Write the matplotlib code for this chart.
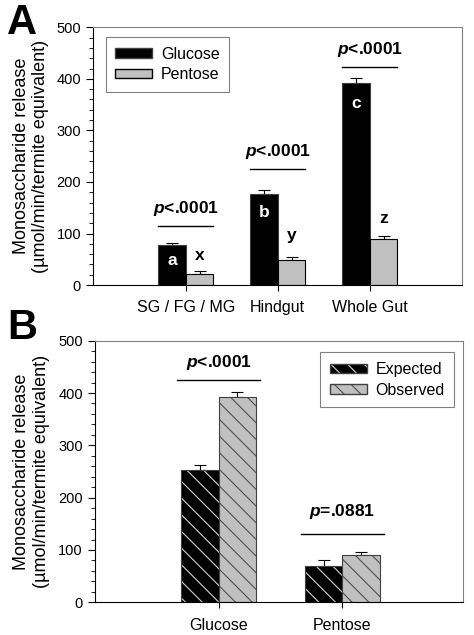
import matplotlib
matplotlib.use('Agg')
import matplotlib.pyplot as plt
import numpy as np
from matplotlib.patches import Patch
from matplotlib.ticker import MultipleLocator

plt.rcParams['font.family'] = ['Liberation Sans', 'DejaVu Sans']
plt.rcParams['mathtext.fontset'] = 'custom'
plt.rcParams['mathtext.bfit'] = 'Liberation Sans:italic:bold'
plt.rcParams['mathtext.it'] = 'Liberation Sans:italic'
plt.rcParams['mathtext.bf'] = 'Liberation Sans:bold'
plt.rcParams['hatch.linewidth'] = 0.8

# panel A data
groups_a = ['SG / FG / MG', 'Hindgut', 'Whole Gut']
glucose = [77, 176, 392]
glucose_err = [4, 9, 10]
pentose = [22, 48, 90]
pentose_err = [5, 7, 6]
letters_glc = ['a', 'b', 'c']
letters_pen = ['x', 'y', 'z']
p_a = ['p<.0001', 'p<.0001', 'p<.0001']

# panel B data
groups_b = ['Glucose', 'Pentose']
expected = [252, 70]
expected_err = [11, 10]
observed = [392, 90]
observed_err = [10, 6]
p_b = ['p<.0001', 'p=.0881']

ylab = 'Monosaccharide release\n(\u00b5mol/min/termite equivalent)'
gray = '#c0c0c0'
w = 0.3


def ptext(s):
    return r'$\mathbfit{p}$' + s[1:]


def style_axes(ax):
    ax.set_ylim(0, 500)
    ax.yaxis.set_major_locator(MultipleLocator(100))
    ax.yaxis.set_minor_locator(MultipleLocator(20))
    ax.tick_params(axis='y', which='major', direction='out', length=5, labelsize=10.5)
    ax.tick_params(axis='y', which='minor', direction='out', length=3)
    ax.tick_params(axis='x', direction='out', length=4, labelsize=11.5, pad=7)
    ax.spines['top'].set_color('#808080')
    ax.spines['right'].set_color('#808080')
    ax.set_ylabel(ylab, fontsize=13, linespacing=1.2)


leg_kw = dict(loc='upper left', fancybox=False, edgecolor='#606060', fontsize=11.5,
              handlelength=2.3, handleheight=0.55, handletextpad=0.55, labelspacing=0.35,
              borderpad=0.6, borderaxespad=0)

fig = plt.figure(figsize=(4.74, 6.35), dpi=100)

# ---- A ----
ax1 = fig.add_axes([0.196, 0.551, 0.778, 0.406])
x = np.arange(len(groups_a))
ax1.bar(x - w/2, glucose, w, color='black', edgecolor='#404040', linewidth=0.8, zorder=2)
ax1.bar(x + w/2, pentose, w, color=gray, edgecolor='black', linewidth=0.8, zorder=2)
ax1.errorbar(x - w/2, glucose, yerr=[np.zeros(3), glucose_err], fmt='none', ecolor='black',
             elinewidth=0.8, capsize=4, capthick=0.8, zorder=1)
ax1.errorbar(x + w/2, pentose, yerr=[np.zeros(3), pentose_err], fmt='none', ecolor='black',
             elinewidth=0.8, capsize=4, capthick=0.8, zorder=1)
line_a = [114, 225, 423]
for i in range(3):
    ax1.plot([x[i] - w, x[i] + w], [line_a[i], line_a[i]], color='black', lw=1)
    ax1.text(x[i], line_a[i] + 16, ptext(p_a[i]), ha='center', va='bottom',
             fontsize=12.5, fontweight='bold')
    ax1.text(x[i] - w/2, [48, 141, 352][i], letters_glc[i], color='white', ha='center',
             va='center', fontsize=12.5, fontweight='bold')
    ax1.text(x[i] + w/2, [58, 97, 130][i], letters_pen[i], color='black', ha='center',
             va='center', fontsize=12.5, fontweight='bold')
ax1.set_xlim(-1.01, 3.0)
ax1.set_xticks(x)
ax1.set_xticklabels(groups_a)
style_axes(ax1)
ax1.yaxis.set_label_coords(-0.118, 0.5)
leg = ax1.legend([Patch(facecolor='black', edgecolor='#404040'), Patch(facecolor=gray, edgecolor='black')],
                 ['Glucose', 'Pentose'], bbox_to_anchor=(0.035, 0.962), **leg_kw)
leg.get_frame().set_linewidth(0.8)
fig.text(0.015, 0.995, 'A', fontsize=30, fontweight='bold', va='top', ha='left')

# ---- B ----
ax2 = fig.add_axes([0.200, 0.0515, 0.776, 0.412])
xb = np.arange(len(groups_b))
ax2.bar(xb - w/2, expected, w, color='black', linewidth=0, zorder=2)
ax2.bar(xb - w/2, expected, w, color='none', edgecolor='#d0d0d0', hatch='\\\\', linewidth=0, zorder=2)
ax2.bar(xb - w/2, expected, w, color='none', edgecolor='#404040', linewidth=0.8, zorder=2)
ax2.bar(xb + w/2, observed, w, color=gray, linewidth=0, zorder=2)
ax2.bar(xb + w/2, observed, w, color='none', edgecolor='#505050', hatch='\\\\', linewidth=0, zorder=2)
ax2.bar(xb + w/2, observed, w, color='none', edgecolor='#404040', linewidth=0.8, zorder=2)
ax2.errorbar(xb - w/2, expected, yerr=[np.zeros(2), expected_err], fmt='none', ecolor='black',
             elinewidth=0.8, capsize=4.5, capthick=0.8, zorder=1)
ax2.errorbar(xb + w/2, observed, yerr=[np.zeros(2), observed_err], fmt='none', ecolor='black',
             elinewidth=0.8, capsize=4.5, capthick=0.8, zorder=1)
line_b = [424, 131]
text_b = [440, 155]
for i in range(2):
    ax2.plot([xb[i] - w*1.12, xb[i] + w*1.12], [line_b[i], line_b[i]], color='black', lw=1)
    ax2.text(xb[i], text_b[i], ptext(p_b[i]), ha='center', va='bottom',
             fontsize=12.5, fontweight='bold')
ax2.set_xlim(-1.0, 1.97)
ax2.set_xticks(xb)
ax2.set_xticklabels(groups_b)
style_axes(ax2)
ax2.yaxis.set_label_coords(-0.122, 0.5)
h_exp = (Patch(facecolor='black', edgecolor='none'),
         Patch(facecolor='none', edgecolor='#d0d0d0', hatch='\\\\', linewidth=0),
         Patch(facecolor='none', edgecolor='#404040'))
h_obs = (Patch(facecolor=gray, edgecolor='none'),
         Patch(facecolor='none', edgecolor='#505050', hatch='\\\\', linewidth=0),
         Patch(facecolor='none', edgecolor='#404040'))
leg2 = ax2.legend([h_exp, h_obs], ['Expected', 'Observed'], bbox_to_anchor=(0.613, 0.955), **leg_kw)
leg2.get_frame().set_linewidth(0.8)
fig.text(0.015, 0.515, 'B', fontsize=30, fontweight='bold', va='top', ha='left')

fig.savefig('out.png', dpi=100)
